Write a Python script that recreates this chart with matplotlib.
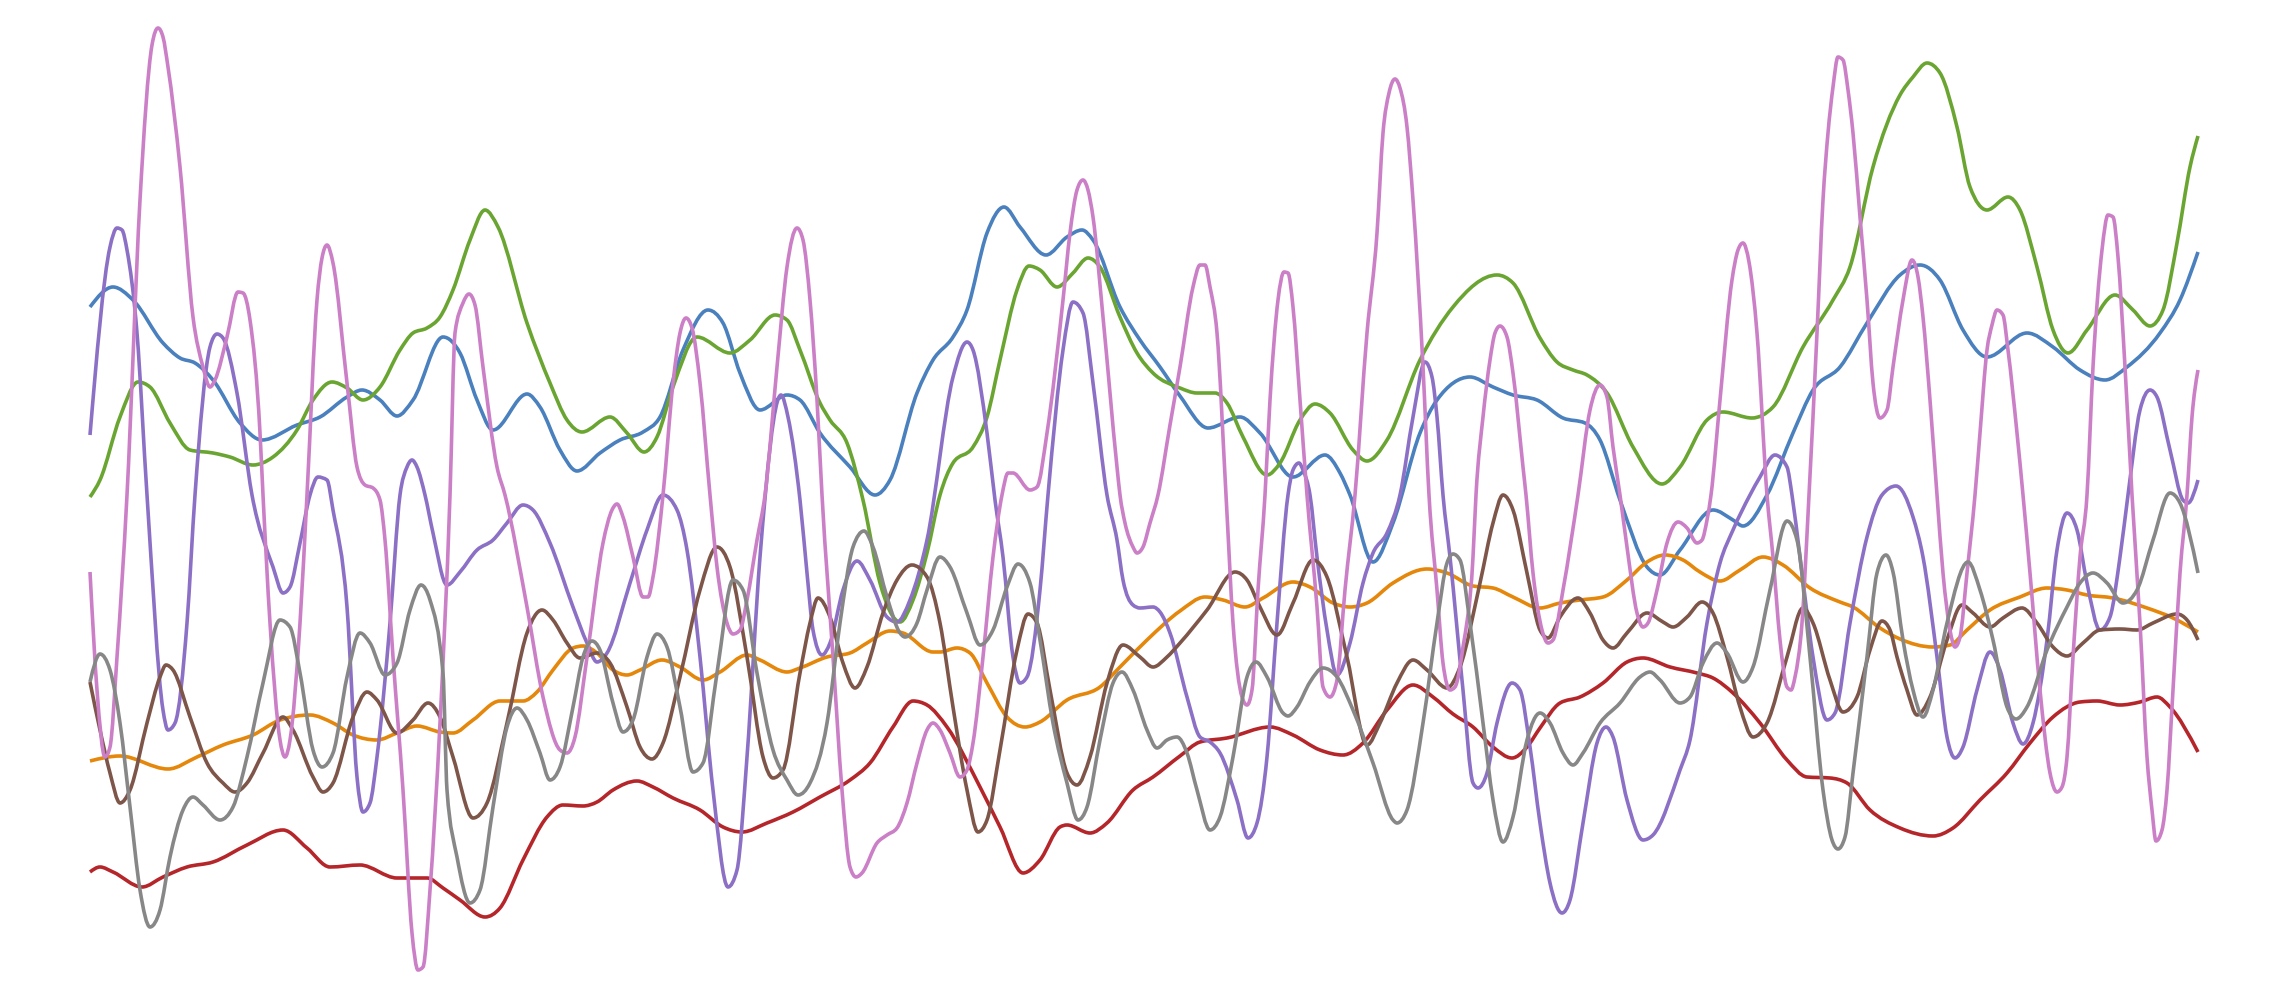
import numpy as np
import matplotlib
matplotlib.use("Agg")
import matplotlib.pyplot as plt
from matplotlib.path import Path
from matplotlib.patches import PathPatch


# -------------------------
# Data (x = step, y = value)
# -------------------------
blue = [(0, 68.3), (2.3, 70.3), (4.3, 69.0), (7.3, 64.7), (9.0, 63.2), (10.5, 62.7), (12.3, 61.0),
        (15.0, 56.7), (17.2, 55.0), (20.7, 56.5), (23.0, 57.3), (25.7, 59.3), (27.2, 60.0), (29.0, 59.0),
        (30.7, 57.4), (32.3, 59.0), (35.3, 65.3), (37.0, 63.7), (38.7, 59.0), (40.3, 56.0), (43.7, 59.6),
        (45.0, 58.3), (47.0, 54.0), (48.7, 51.9), (51.0, 53.7), (53.0, 55.0), (55.3, 55.8), (57.0, 57.3),
        (59.3, 64.0), (61.8, 68.0), (63.3, 66.7), (65.0, 61.7), (67.0, 58.0), (69.7, 59.5), (71.0, 59.0),
        (73.0, 55.7), (76.0, 52.3), (78.5, 49.5), (80.0, 51.0), (82.7, 59.7), (84.3, 63.0), (86.3, 65.3),
        (87.7, 68.0), (89.7, 75.7), (91.4, 78.3), (93.0, 76.3), (95.6, 73.5), (97.7, 75.3), (99.2, 76.0),
        (100.3, 75.0), (103.0, 68.3), (105.0, 65.0), (107.0, 62.3), (109.0, 59.4), (111.8, 56.2),
        (115.0, 57.3), (117.0, 55.7), (120.3, 51.3), (123.5, 53.5), (125.0, 51.7), (126.0, 49.5),
        (128.3, 42.8), (130.3, 46.7), (133.0, 55.7), (134.7, 59.0), (138.0, 61.3), (140.3, 60.3),
        (142.3, 59.5), (144.7, 59.0), (147.3, 57.2), (149.5, 56.7), (151.0, 55.0), (153.0, 49.0),
        (155.7, 42.3), (157.0, 41.5), (159.0, 44.0), (162.3, 48.0), (164.3, 47.0), (165.3, 46.4),
        (167.7, 49.5), (170.3, 55.7), (172.3, 60.0), (175.0, 62.3), (177.7, 66.7), (181.0, 71.5),
        (183.0, 72.5), (185.0, 71.0), (187.3, 66.0), (189.7, 63.3), (193.7, 65.7), (196.3, 64.3),
        (199.0, 62.0), (201.5, 61.0), (203.7, 62.3), (207.0, 65.7), (209.0, 69.0), (210.8, 73.8)]

orange = [(0, 22.9), (3.0, 23.4), (7.8, 22.1), (10.7, 23.3), (13.3, 24.5), (16.3, 25.5), (19.0, 27.0),
          (22.0, 27.5), (24.3, 26.7), (26.3, 25.5), (28.7, 25.0), (30.7, 25.7), (32.7, 26.4), (35.0, 25.8),
          (36.3, 25.7), (38.3, 27.0), (41.0, 28.9), (43.3, 28.9), (44.7, 29.8), (46.3, 32.0), (48.3, 34.2),
          (49.3, 34.4), (50.7, 33.7), (52.3, 32.0), (53.7, 31.5), (55.0, 32.0), (57.2, 33.0), (59.0, 32.3),
          (61.3, 31.0), (63.0, 31.8), (65.7, 33.5), (67.0, 33.0), (69.7, 31.8), (71.0, 32.2), (73.7, 33.3),
          (76.0, 33.7), (77.7, 34.7), (80.0, 35.9), (81.3, 35.7), (84.3, 33.8), (85.0, 33.8), (86.7, 34.2),
          (88.0, 33.7), (89.7, 30.7), (91.7, 27.3), (93.5, 26.3), (95.0, 26.8), (97.7, 29.0), (101.0, 30.3),
          (103.0, 32.3), (105.7, 35.0), (109.0, 37.9), (111.5, 39.3), (113.3, 39.0), (115.5, 38.3),
          (117.3, 39.2), (120.3, 40.8), (122.0, 40.3), (124.3, 38.7), (126.0, 38.3), (127.7, 38.7),
          (130.3, 40.7), (133.7, 42.1), (135.7, 41.7), (138.3, 40.4), (140.3, 40.2), (142.3, 39.3),
          (145.0, 38.2), (147.0, 38.7), (149.0, 39.0), (151.3, 39.3), (153.7, 41.0), (155.7, 42.8),
          (157.5, 43.5), (159.3, 43.0), (161.0, 41.8), (163.0, 40.9), (165.0, 42.0), (167.3, 43.3),
          (169.3, 42.5), (172.0, 40.2), (175.0, 38.8), (176.3, 38.3), (179.0, 36.2), (181.0, 35.1),
          (184.3, 34.3), (186.0, 34.5), (187.7, 36.0), (190.0, 38.0), (193.0, 39.3), (195.7, 40.2),
          (197.7, 40.0), (199.7, 39.5), (202.3, 39.2), (205.7, 38.2), (208.3, 37.2), (210.8, 35.8)]

green = [(0, 49.3), (1.0, 51.0), (3.0, 57.3), (4.8, 60.8), (6.0, 60.3), (8.0, 56.7), (10.0, 54.0),
         (12.3, 53.7), (14.0, 53.3), (16.3, 52.5), (18.3, 53.3), (20.7, 56.0), (22.3, 59.0), (24.2, 60.8),
         (25.7, 60.2), (27.3, 59.0), (29.0, 60.3), (31.0, 64.0), (32.3, 65.7), (33.7, 66.2), (35.0, 67.3),
         (36.3, 70.0), (38.0, 75.0), (39.5, 78.0), (40.8, 76.3), (43.7, 66.7), (46.0, 60.7), (47.7, 57.0),
         (49.2, 55.8), (52.0, 57.3), (53.7, 55.7), (55.4, 53.8), (56.7, 55.3), (58.3, 60.3), (60.7, 65.3),
         (64.0, 63.7), (66.0, 65.0), (68.5, 67.5), (69.7, 67.0), (71.0, 64.0), (73.0, 58.7), (74.0, 57.0),
         (75.7, 54.7), (77.3, 49.0), (79.0, 40.7), (81.0, 36.8), (82.3, 39.0), (83.7, 43.7), (85.0, 49.5),
         (86.3, 52.7), (88.3, 54.3), (89.7, 57.3), (91.0, 63.0), (92.7, 70.0), (93.9, 72.4), (95.0, 72.0),
         (96.7, 70.3), (98.3, 71.7), (99.8, 73.2), (101.0, 72.3), (103.0, 67.3), (104.7, 63.7),
         (106.3, 61.7), (109.0, 60.2), (110.7, 59.7), (112.5, 59.7), (113.7, 58.7), (115.3, 55.3),
         (117.7, 51.5), (119.0, 52.7), (121.0, 57.0), (122.5, 58.6), (124.0, 57.7), (126.3, 54.0),
         (127.7, 52.9), (129.7, 55.0), (133.0, 63.0), (136.3, 68.3), (140.7, 71.5), (142.3, 70.7),
         (145.0, 65.2), (146.7, 62.8), (148.3, 62.0), (149.7, 61.5), (151.7, 59.7), (154.3, 54.3),
         (157.2, 50.6), (159.0, 52.3), (161.7, 57.0), (163.3, 57.8), (166.2, 57.2), (168.3, 58.3),
         (171.3, 64.3), (174.3, 69.0), (176.0, 72.3), (178.3, 82.3), (181.0, 89.5), (182.3, 91.3),
         (183.7, 92.7), (185.0, 91.7), (186.7, 86.3), (188.0, 80.3), (189.7, 78.0), (191.8, 79.3),
         (193.0, 78.0), (194.7, 72.3), (196.3, 66.0), (197.8, 63.7), (199.7, 66.0), (202.5, 69.5),
         (204.3, 68.0), (206.0, 66.4), (207.3, 68.0), (208.7, 74.7), (210.0, 82.3), (210.8, 85.4)]

red = [(0, 11.8), (1.0, 12.3), (2.3, 11.8), (5.2, 10.3), (7.3, 11.3), (9.7, 12.3), (12.3, 12.8),
       (15.7, 14.5), (19.3, 16.0), (21.7, 14.2), (24.0, 12.3), (27.0, 12.5), (30.7, 11.2), (33.7, 11.2),
       (35.3, 10.2), (37.0, 9.0), (39.5, 7.3), (41.0, 8.2), (43.3, 13.0), (45.7, 17.3), (47.3, 18.5),
       (49.3, 18.4), (50.7, 18.8), (52.3, 20.0), (54.7, 20.9), (56.3, 20.3), (58.3, 19.2), (61.0, 18.0),
       (63.3, 16.3), (65.2, 15.8), (67.7, 16.7), (70.3, 17.8), (73.0, 19.3), (76.0, 21.0), (78.0, 22.7),
       (80.3, 26.3), (82.3, 28.9), (83.7, 28.5), (85.7, 26.3), (89.0, 20.3), (91.0, 16.3), (93.3, 11.7),
       (95.0, 13.0), (97.0, 16.3), (97.7, 16.5), (100.0, 15.7), (101.7, 16.7), (104.3, 20.0),
       (106.3, 21.3), (109.0, 23.4), (111.0, 24.8), (113.7, 25.2), (118.0, 26.3), (120.3, 25.5),
       (123.0, 24.0), (125.3, 23.5), (127.3, 24.7), (129.7, 28.0), (132.3, 30.5), (134.3, 29.3),
       (136.3, 27.6), (138.3, 26.3), (140.3, 24.3), (142.2, 23.2), (143.7, 24.3), (145.0, 26.2),
       (147.0, 28.7), (149.0, 29.3), (151.3, 30.7), (153.7, 32.8), (155.3, 33.2), (158.0, 32.3),
       (160.7, 31.7), (162.3, 31.2), (164.3, 29.7), (167.0, 26.7), (169.7, 23.0), (171.7, 21.3),
       (174.0, 21.2), (175.7, 20.7), (178.0, 18.0), (181.0, 16.2), (184.3, 15.4), (186.3, 16.2),
       (189.0, 19.0), (191.7, 21.7), (194.0, 24.7), (196.3, 27.3), (199.0, 28.8), (200.7, 28.9),
       (203.0, 28.5), (205.0, 28.8), (206.7, 29.3), (208.0, 28.3), (210.8, 23.8)]

purple = [(0, 55.5), (2.0, 74.3), (2.7, 76.2), (3.2, 76.0), (3.7, 74.0), (4.7, 65.7), (5.7, 49.5),
          (7.3, 28.0), (7.8, 26.0), (8.5, 26.7), (9.7, 36.7), (10.5, 49.5), (12.0, 64.3), (12.7, 65.6),
          (13.3, 65.2), (14.7, 59.7), (16.2, 49.5), (18.3, 42.3), (19.3, 39.7), (20.0, 40.3), (21.0, 44.7),
          (22.0, 49.5), (22.8, 51.3), (23.7, 51.0), (24.3, 48.0), (25.7, 38.3), (26.7, 21.3), (27.3, 17.8),
          (28.0, 18.7), (28.7, 23.3), (30.0, 36.7), (31.0, 49.5), (31.7, 52.3), (32.2, 53.0), (32.7, 52.3),
          (33.5, 49.5), (34.3, 45.7), (35.7, 40.5), (37.0, 41.8), (38.7, 44.0), (40.3, 45.0), (41.7, 46.7),
          (43.3, 48.5), (44.3, 48.0), (46.0, 44.7), (48.3, 38.3), (49.7, 34.7), (50.7, 32.8), (51.7, 33.7),
          (54.0, 40.7), (55.7, 46.0), (57.3, 49.5), (58.7, 48.0), (59.7, 44.0), (61.0, 33.3), (62.3, 20.0),
          (63.8, 10.3), (64.7, 12.0), (65.7, 23.3), (67.0, 43.3), (69.1, 59.5), (69.8, 57.3), (71.0, 49.0),
          (71.7, 41.7), (72.3, 36.0), (73.2, 33.5), (74.0, 34.7), (75.3, 40.0), (76.7, 42.9), (78.0, 41.0),
          (79.7, 37.3), (80.7, 36.8), (82.0, 39.0), (83.7, 45.0), (86.3, 61.3), (87.7, 64.8), (88.3, 64.0),
          (89.7, 55.7), (90.5, 49.0), (91.3, 43.3), (92.3, 33.3), (93.0, 30.7), (93.7, 31.3), (95.0, 40.0),
          (95.8, 49.5), (97.3, 64.0), (98.3, 68.8), (99.3, 67.7), (100.3, 60.7), (101.7, 49.5),
          (102.7, 45.0), (103.3, 41.0), (104.3, 38.5), (105.0, 38.2), (106.3, 38.3), (107.0, 37.8),
          (108.0, 35.7), (109.7, 29.3), (111.0, 25.3), (112.0, 24.8), (113.0, 23.7), (114.7, 19.0),
          (115.8, 15.2), (116.7, 16.7), (117.7, 23.3), (118.7, 36.7), (119.8, 49.5), (120.3, 52.0),
          (120.9, 52.7), (121.3, 52.0), (122.0, 49.5), (122.7, 43.3), (123.7, 36.0), (124.7, 31.5),
          (126.0, 34.7), (127.3, 40.7), (128.3, 43.7), (129.7, 45.7), (131.0, 49.5), (132.3, 57.3),
          (133.5, 62.8), (134.2, 61.3), (134.7, 57.3), (135.3, 49.5), (136.0, 43.3), (137.3, 30.0),
          (138.3, 20.7), (138.8, 20.2), (139.7, 21.7), (140.7, 26.7), (142.2, 30.7), (143.0, 30.0),
          (144.0, 24.3), (145.0, 16.7), (146.0, 10.7), (147.2, 7.7), (148.0, 9.0), (149.3, 16.7),
          (150.7, 24.7), (151.6, 26.3), (152.3, 25.3), (153.7, 19.0), (155.3, 15.0), (156.3, 15.5),
          (159.0, 22.0), (160.0, 25.0), (161.7, 36.7), (163.0, 42.7), (164.3, 46.0), (166.0, 49.5),
          (167.0, 51.3), (168.5, 53.5), (169.7, 52.3), (170.2, 49.5), (171.0, 43.3), (172.3, 33.3),
          (173.7, 27.0), (174.5, 27.7), (176.0, 36.7), (177.7, 45.3), (179.2, 49.5), (180.6, 50.4),
          (182.3, 47.3), (183.3, 43.3), (184.7, 33.3), (185.7, 25.3), (186.5, 23.2), (187.3, 24.3),
          (188.7, 30.0), (190.0, 33.8), (191.0, 32.0), (192.3, 26.7), (193.3, 24.6), (194.3, 26.7),
          (195.7, 35.0), (196.7, 44.0), (197.7, 47.7), (198.7, 46.0), (199.7, 40.7), (201.0, 36.0),
          (202.0, 37.3), (203.0, 43.3), (203.8, 49.5), (205.0, 58.0), (206.0, 60.0), (206.7, 59.3),
          (208.0, 54.0), (209.3, 49.0), (209.8, 48.7), (210.8, 51.0)]

brown = [(0, 30.8), (1.0, 26.0), (2.0, 21.7), (3.0, 18.7), (4.0, 20.0), (5.7, 26.7), (7.0, 31.3),
         (7.6, 32.5), (8.3, 32.0), (10.0, 27.3), (11.7, 22.7), (13.3, 20.7), (14.5, 19.8), (15.7, 20.7),
         (17.3, 23.7), (19.3, 27.3), (20.3, 26.0), (22.3, 21.3), (23.3, 19.8), (24.3, 20.7), (26.3, 27.3),
         (27.7, 29.8), (28.7, 29.0), (30.7, 25.7), (32.3, 27.0), (33.8, 28.7), (35.0, 27.3), (36.3, 23.3),
         (38.3, 17.2), (39.7, 18.7), (41.7, 26.7), (43.7, 35.7), (45.2, 38.0), (46.3, 37.0), (47.7, 34.7),
         (49.0, 33.2), (50.7, 33.7), (52.0, 32.7), (53.7, 28.3), (55.0, 24.3), (56.2, 23.1), (57.3, 24.7),
         (59.0, 31.3), (61.0, 40.0), (62.7, 44.3), (64.0, 42.3), (65.7, 33.3), (67.3, 23.3), (68.3, 21.2),
         (69.3, 22.0), (71.0, 31.7), (72.0, 36.7), (72.8, 39.2), (74.0, 37.3), (75.3, 32.7), (76.5, 30.2),
         (77.7, 32.3), (79.3, 37.7), (80.7, 41.0), (82.2, 42.5), (83.7, 41.3), (85.0, 36.7), (86.3, 28.3),
         (87.7, 20.0), (88.8, 15.8), (89.7, 17.0), (91.0, 24.0), (92.7, 34.0), (93.8, 37.6), (94.7, 36.7),
         (96.0, 30.0), (97.7, 21.7), (98.7, 20.5), (100.0, 23.3), (101.7, 30.7), (103.3, 34.5),
         (105.0, 33.3), (106.3, 32.3), (107.7, 33.3), (109.0, 34.7), (111.7, 38.0), (114.5, 41.8),
         (115.7, 41.0), (117.0, 38.3), (118.7, 35.5), (120.3, 38.7), (122.3, 43.0), (123.7, 41.3),
         (125.7, 33.3), (127.7, 24.5), (129.0, 26.7), (130.7, 30.7), (132.3, 33.0), (133.7, 32.0),
         (135.7, 30.2), (137.0, 32.3), (139.0, 40.7), (140.3, 46.7), (141.3, 49.5), (142.3, 48.0),
         (143.7, 41.7), (145.0, 36.0), (145.8, 35.2), (147.0, 37.3), (148.8, 39.2), (150.0, 37.7),
         (151.3, 35.0), (152.3, 34.2), (153.7, 35.7), (155.7, 37.7), (157.3, 36.8), (158.3, 36.3),
         (159.7, 37.3), (161.2, 38.8), (162.3, 37.7), (163.7, 33.3), (165.0, 28.3), (166.3, 25.3),
         (167.7, 26.7), (169.7, 33.3), (171.3, 38.2), (172.3, 36.7), (174.0, 31.0), (175.3, 27.8),
         (176.7, 29.3), (178.0, 34.0), (179.2, 36.9), (180.0, 36.0), (180.7, 33.3), (181.7, 30.0),
         (182.7, 27.5), (184.0, 29.3), (185.7, 35.0), (187.2, 38.5), (188.3, 37.7), (190.0, 36.3),
         (191.3, 37.2), (193.2, 38.2), (194.7, 36.7), (196.3, 34.3), (197.7, 33.4), (199.3, 34.7),
         (201.0, 36.0), (203.0, 36.1), (204.7, 36.0), (206.3, 36.7), (208.7, 37.6), (209.7, 37.0),
         (210.8, 35.0)]

pink = [(0, 41.8), (0.7, 30.0), (1.5, 23.3), (2.0, 24.3), (2.7, 33.3), (3.7, 49.5), (5.0, 79.0),
        (6.2, 94.5), (6.8, 96.2), (7.3, 95.3), (7.8, 92.3), (9.0, 82.3), (10.3, 67.3), (11.3, 62.3),
        (12.0, 60.3), (12.5, 61.0), (13.7, 65.3), (14.8, 69.8), (15.3, 69.7), (16.0, 67.0), (17.0, 55.7),
        (17.3, 49.5), (18.0, 36.7), (19.0, 25.0), (19.5, 23.3), (20.0, 25.0), (21.0, 36.7), (21.7, 49.5),
        (22.7, 69.0), (23.2, 73.2), (23.7, 74.5), (24.3, 72.7), (25.7, 60.7), (26.7, 52.3), (27.5, 50.5),
        (28.3, 50.2), (29.0, 49.0), (29.5, 45.0), (30.3, 33.3), (31.3, 20.0), (32.2, 5.7), (32.8, 2.0),
        (33.3, 2.3), (34.0, 10.0), (35.0, 26.7), (36.0, 49.5), (36.5, 65.7), (37.3, 68.7), (37.9, 69.6),
        (38.5, 68.5), (39.3, 62.3), (40.7, 52.3), (41.5, 49.5), (43.7, 38.3), (45.3, 29.3), (47.0, 24.0),
        (47.7, 23.7), (48.5, 25.3), (49.7, 33.3), (51.3, 44.7), (52.2, 48.0), (52.7, 48.6), (53.3, 47.3),
        (54.3, 43.3), (55.3, 39.3), (55.8, 39.3), (56.3, 41.3), (57.3, 49.5), (58.3, 60.7), (59.0, 65.7),
        (59.6, 67.2), (60.2, 66.2), (61.0, 60.7), (62.0, 49.5), (62.7, 42.3), (63.7, 36.7), (64.3, 35.6),
        (65.0, 36.0), (65.7, 39.0), (66.7, 45.0), (67.5, 49.5), (68.7, 62.3), (69.7, 72.3), (70.7, 76.2),
        (71.3, 75.0), (72.0, 69.0), (72.7, 59.0), (73.2, 49.5), (74.3, 33.3), (75.2, 20.0), (76.0, 12.3),
        (76.6, 11.3), (77.2, 11.7), (78.7, 14.7), (79.7, 15.5), (80.7, 16.2), (81.7, 18.7), (82.7, 22.7),
        (83.7, 26.0), (84.3, 26.7), (85.0, 26.0), (86.0, 23.7), (87.0, 21.3), (87.7, 22.0), (88.3, 24.7),
        (89.3, 33.3), (90.3, 43.3), (91.2, 49.5), (91.8, 51.7), (92.3, 51.7), (94.0, 50.0), (94.7, 50.3),
        (95.7, 55.7), (97.3, 69.0), (98.0, 75.7), (98.7, 80.0), (99.3, 81.0), (99.8, 80.0), (100.3, 77.3),
        (101.3, 67.3), (102.7, 52.3), (103.0, 49.5), (103.5, 46.7), (104.3, 44.3), (104.7, 43.7),
        (105.3, 44.3), (106.0, 46.7), (106.8, 49.5), (108.0, 56.5), (109.0, 62.3), (110.3, 70.3),
        (111.0, 72.5), (111.5, 72.5), (112.0, 70.3), (112.7, 65.7), (113.6, 49.5), (114.3, 36.7),
        (115.2, 29.3), (115.7, 28.5), (116.2, 30.0), (116.8, 40.0), (117.5, 49.5), (118.0, 59.0),
        (118.8, 69.0), (119.4, 71.8), (119.8, 71.7), (120.3, 68.3), (121.0, 59.0), (121.7, 49.5),
        (122.7, 38.3), (123.3, 30.3), (124.0, 29.3), (124.7, 31.0), (125.5, 40.0), (126.5, 49.5),
        (127.7, 65.7), (128.7, 75.7), (129.3, 85.7), (129.9, 89.7), (130.5, 91.1), (131.0, 90.2),
        (131.7, 86.3), (132.3, 79.0), (133.3, 62.3), (133.9, 49.5), (134.7, 40.0), (135.3, 32.7),
        (136.0, 30.0), (136.5, 30.3), (137.3, 34.3), (138.3, 43.3), (138.6, 49.5), (139.3, 57.3),
        (140.0, 63.0), (140.5, 65.7), (141.0, 66.4), (141.7, 65.3), (142.3, 61.7), (143.3, 52.3),
        (143.6, 49.5), (144.3, 41.7), (145.2, 36.0), (145.8, 34.7), (146.3, 35.0), (147.3, 40.0),
        (148.8, 49.5), (150.0, 58.0), (151.0, 60.5), (151.7, 59.3), (152.3, 54.3), (153.0, 49.5),
        (153.7, 44.3), (154.7, 37.7), (155.3, 36.3), (155.8, 36.7), (156.7, 40.0), (157.7, 44.7),
        (158.8, 46.8), (159.7, 46.2), (160.7, 44.7), (161.2, 45.0), (161.7, 47.0), (162.1, 49.5),
        (163.0, 59.0), (164.2, 71.0), (164.8, 74.0), (165.3, 74.7), (165.9, 72.8), (166.7, 65.7),
        (167.7, 49.5), (168.3, 43.3), (169.0, 35.0), (169.7, 30.3), (170.1, 30.0), (170.5, 31.3),
        (171.2, 36.7), (171.9, 49.5), (172.7, 65.7), (173.3, 79.0), (173.8, 85.7), (174.3, 90.3),
        (174.8, 93.3), (175.3, 93.0), (175.8, 90.0), (176.3, 85.7), (177.0, 77.3), (177.7, 69.0),
        (178.3, 60.7), (179.0, 57.2), (179.7, 58.0), (180.3, 62.3), (181.3, 69.0), (182.2, 73.0),
        (182.8, 71.3), (183.3, 67.3), (184.0, 59.0), (184.7, 49.5), (185.3, 41.7), (186.0, 36.0),
        (186.5, 34.3), (187.0, 35.3), (187.7, 41.7), (188.5, 49.5), (189.0, 55.7), (189.7, 64.0),
        (190.2, 66.5), (190.7, 68.0), (191.3, 67.5), (191.8, 64.0), (192.7, 55.7), (193.3, 49.5),
        (194.0, 41.7), (195.0, 30.0), (196.0, 21.7), (196.7, 19.8), (197.2, 20.3), (197.7, 23.3),
        (198.3, 33.3), (199.0, 43.3), (199.7, 49.5), (200.3, 62.3), (201.2, 74.0), (201.8, 77.5),
        (202.3, 77.3), (202.8, 73.3), (203.5, 62.3), (204.2, 49.5), (205.0, 36.7), (205.7, 23.3),
        (206.2, 18.0), (206.6, 14.9), (207.2, 16.0), (207.7, 20.0), (208.3, 30.0), (209.0, 41.7),
        (209.7, 49.5), (210.2, 57.3), (210.8, 62.0)]

gray = [(0, 30.8), (1.0, 33.6), (2.0, 32.0), (3.0, 26.7), (4.0, 18.3), (5.0, 10.0), (6.0, 6.3), (7.0, 8.0),
        (8.0, 13.3), (9.3, 18.0), (10.3, 19.3), (11.3, 18.5), (13.0, 17.0), (14.3, 18.3), (15.7, 23.3),
        (17.3, 30.7), (19.0, 37.0), (20.0, 36.3), (21.0, 31.7), (22.3, 24.0), (23.2, 22.3), (24.3, 23.7),
        (25.7, 31.3), (27.0, 35.7), (28.0, 34.7), (29.5, 31.5), (30.7, 32.7), (32.0, 38.0), (33.1, 40.5),
        (34.0, 39.0), (35.3, 31.7), (35.7, 20.0), (36.7, 13.3), (38.0, 8.7), (39.0, 10.0), (40.3, 18.3),
        (41.7, 26.3), (42.7, 28.2), (43.7, 27.0), (45.0, 23.7), (46.0, 21.0), (47.0, 22.3), (48.3, 28.3),
        (49.3, 33.3), (50.2, 34.9), (51.0, 34.0), (52.3, 28.7), (53.3, 25.8), (54.3, 27.0), (55.7, 33.3),
        (56.7, 35.6), (57.7, 34.3), (59.0, 28.3), (60.3, 21.8), (61.3, 22.7), (62.7, 31.7), (64.3, 41.0),
        (65.3, 40.0), (66.7, 31.7), (68.3, 24.0), (69.7, 21.0), (70.8, 19.5), (72.0, 20.7), (73.7, 26.7),
        (75.0, 36.7), (76.3, 44.3), (77.4, 45.9), (78.3, 44.3), (79.7, 39.3), (81.0, 35.7), (81.5, 35.3),
        (82.7, 36.7), (83.7, 40.0), (85.0, 43.3), (86.0, 42.3), (87.7, 37.7), (89.0, 34.5), (90.3, 36.0),
        (91.7, 40.3), (92.8, 42.6), (94.0, 40.7), (95.0, 35.0), (96.3, 26.7), (97.7, 20.7), (98.8, 17.0),
        (99.7, 18.3), (101.0, 25.0), (102.3, 30.7), (103.2, 31.8), (104.3, 30.0), (105.7, 26.0),
        (106.7, 24.2), (107.7, 25.0), (108.7, 25.3), (109.7, 23.7), (110.7, 20.0), (112.0, 16.0),
        (113.0, 17.3), (114.3, 23.3), (115.7, 31.3), (116.6, 32.8), (117.7, 31.3), (119.3, 27.7),
        (119.8, 27.4), (120.7, 28.3), (122.0, 30.8), (123.3, 32.2), (124.7, 31.3), (126.3, 28.0),
        (128.3, 22.7), (130.3, 17.0), (130.7, 16.7), (131.7, 18.0), (133.3, 26.7), (134.7, 36.7),
        (135.7, 42.7), (136.3, 43.6), (137.0, 43.0), (138.0, 36.7), (139.3, 26.7), (140.3, 19.0),
        (141.3, 14.8), (142.3, 17.3), (143.7, 25.0), (145.0, 27.7), (146.0, 26.7), (147.3, 23.7),
        (148.3, 22.5), (149.3, 23.7), (151.0, 26.7), (153.0, 28.7), (155.0, 31.3), (156.0, 31.8),
        (157.0, 31.0), (159.0, 28.7), (160.0, 29.3), (161.3, 32.7), (162.7, 34.7), (163.7, 33.7),
        (165.3, 30.8), (166.3, 32.3), (168.0, 40.0), (169.7, 46.9), (170.7, 45.0), (172.0, 33.3),
        (173.3, 20.0), (174.2, 15.0), (174.8, 14.1), (175.5, 15.3), (176.3, 21.7), (177.7, 33.3),
        (178.7, 41.7), (179.6, 43.5), (180.3, 41.8), (181.3, 35.0), (182.3, 30.0), (183.3, 27.3),
        (184.3, 30.0), (185.7, 36.7), (187.8, 42.8), (189.0, 40.0), (190.3, 35.0), (191.7, 28.3),
        (192.6, 27.1), (193.7, 28.3), (195.7, 34.0), (197.7, 38.3), (199.0, 40.7), (200.3, 41.7),
        (201.7, 40.7), (203.3, 38.7), (204.7, 40.0), (206.3, 45.0), (208.0, 49.7), (209.0, 48.7),
        (210.8, 41.7)]

series = [blue, orange, green, red, purple, brown, pink, gray]
colors = ["#4a80bd", "#e4870b", "#6aa532", "#b5262b", "#8b70c6", "#7e5549", "#cb7fc6", "#878787"]


# -------------------------
# Helpers
# -------------------------
def monotone_path(pts):
    # monotone-x cubic through the points, as bezier segments
    x = np.array([p[0] for p in pts], dtype=float)
    y = np.array([p[1] for p in pts], dtype=float)
    n = len(x)
    h = np.diff(x)
    s = np.diff(y) / h
    t = np.zeros(n)
    for i in range(1, n - 1):
        s0, s1 = s[i - 1], s[i]
        p = (s0 * h[i] + s1 * h[i - 1]) / (h[i - 1] + h[i])
        t[i] = (np.sign(s0) + np.sign(s1)) * min(abs(s0), abs(s1), 0.5 * abs(p))
    t[0] = (3 * s[0] - t[1]) / 2
    t[-1] = (3 * s[-1] - t[-2]) / 2

    verts = [(x[0], y[0])]
    codes = [Path.MOVETO]
    for i in range(n - 1):
        dx = h[i] / 3
        verts += [(x[i] + dx, y[i] + dx * t[i]),
                  (x[i + 1] - dx, y[i + 1] - dx * t[i + 1]),
                  (x[i + 1], y[i + 1])]
        codes += [Path.CURVE4] * 3
    return Path(verts, codes)


# -------------------------
# Figure
# -------------------------
fig = plt.figure(figsize=(22.8, 9.9), dpi=100)
ax = fig.add_axes([0, 0, 1, 1])

for pts, c in zip(series, colors):
    ax.add_patch(PathPatch(monotone_path(pts), fill=False, edgecolor=c,
                           lw=2.6, capstyle="butt", joinstyle="round"))

ax.set_xlim(-9.0, 219.0)
ax.set_ylim(0, 99.0)
ax.axis("off")

fig.savefig("out.png", dpi=100, facecolor="white")
